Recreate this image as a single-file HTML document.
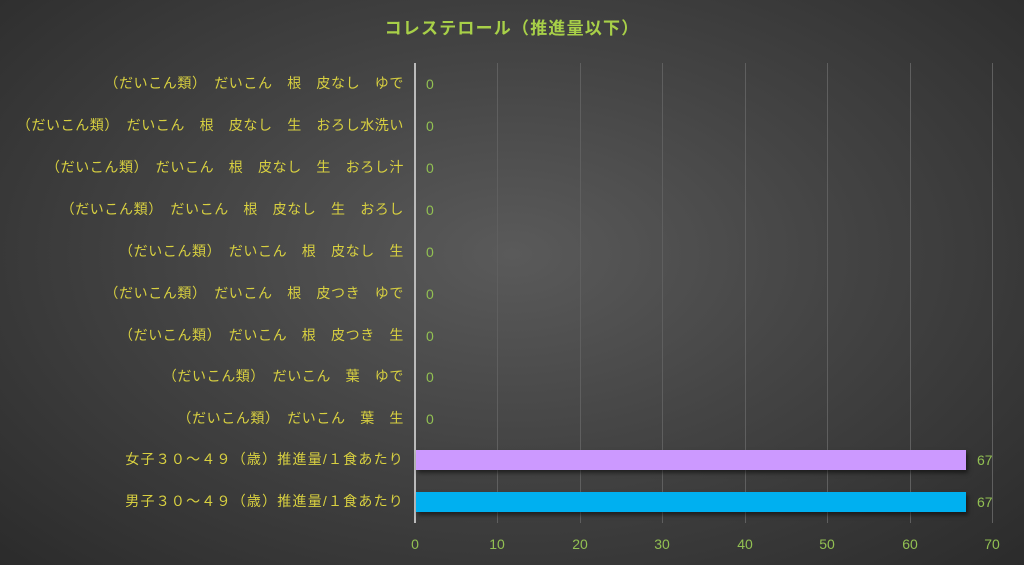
<!DOCTYPE html><html><head><meta charset="utf-8"><style>
body{margin:0;width:1024px;height:565px;overflow:hidden;background:radial-gradient(ellipse at 50% 45%,#5a5a5a 0%,#444 45%,#2b2b2b 100%);font-family:"Liberation Sans","Noto Sans CJK JP",sans-serif;position:relative}
.t{position:absolute;white-space:nowrap}
.l{right:620px;color:#d8d040;font-size:14px;letter-spacing:0.6px;text-align:right}
.v{left:426px;color:#92c052;font-size:14px}
.x{color:#92c052;font-size:14px;transform:translateX(-50%)}
.g{position:absolute;top:63px;height:460px;width:1px;background:#5f5f5f}
</style></head><body>
<div class="t" style="left:0;width:1024px;text-align:center;top:14px;color:#a8d048;font-size:17px;font-weight:bold;letter-spacing:1.2px">コレステロール（推進量以下）</div>
<div class="g" style="left:497px"></div><div class="g" style="left:580px"></div><div class="g" style="left:662px"></div><div class="g" style="left:745px"></div><div class="g" style="left:827px"></div><div class="g" style="left:910px"></div><div class="g" style="left:992px"></div>
<div style="position:absolute;left:414px;top:63px;width:2px;height:460px;background:#bbb"></div>
<div style="position:absolute;left:416px;top:450px;width:550px;height:20px;background:#cc99ff;box-shadow:2px 3px 4px rgba(0,0,0,.5)"></div>
<div style="position:absolute;left:416px;top:492px;width:550px;height:20px;background:#00b0f0;box-shadow:2px 3px 4px rgba(0,0,0,.5)"></div>
<div class="t l" style="top:73px">（だいこん類）　だいこん　根　皮なし　ゆで</div>
<div class="t l" style="top:115px">（だいこん類）　だいこん　根　皮なし　生　おろし水洗い</div>
<div class="t l" style="top:157px">（だいこん類）　だいこん　根　皮なし　生　おろし汁</div>
<div class="t l" style="top:199px">（だいこん類）　だいこん　根　皮なし　生　おろし</div>
<div class="t l" style="top:241px">（だいこん類）　だいこん　根　皮なし　生</div>
<div class="t l" style="top:283px">（だいこん類）　だいこん　根　皮つき　ゆで</div>
<div class="t l" style="top:325px">（だいこん類）　だいこん　根　皮つき　生</div>
<div class="t l" style="top:366px">（だいこん類）　だいこん　葉　ゆで</div>
<div class="t l" style="top:408px">（だいこん類）　だいこん　葉　生</div>
<div class="t l" style="top:449px;letter-spacing:1.2px">女子３０～４９（歳）推進量/１食あたり</div>
<div class="t l" style="top:491px;letter-spacing:1.2px">男子３０～４９（歳）推進量/１食あたり</div>
<div class="t v" style="top:76px">0</div><div class="t v" style="top:118px">0</div><div class="t v" style="top:160px">0</div><div class="t v" style="top:202px">0</div><div class="t v" style="top:244px">0</div><div class="t v" style="top:286px">0</div><div class="t v" style="top:328px">0</div><div class="t v" style="top:369px">0</div><div class="t v" style="top:411px">0</div>
<div class="t v" style="top:452px;left:977px">67</div><div class="t v" style="top:494px;left:977px">67</div>
<div class="t x" style="left:415px;top:536px">0</div><div class="t x" style="left:497px;top:536px">10</div><div class="t x" style="left:580px;top:536px">20</div><div class="t x" style="left:662px;top:536px">30</div><div class="t x" style="left:745px;top:536px">40</div><div class="t x" style="left:827px;top:536px">50</div><div class="t x" style="left:910px;top:536px">60</div><div class="t x" style="left:992px;top:536px">70</div>
</body></html>
